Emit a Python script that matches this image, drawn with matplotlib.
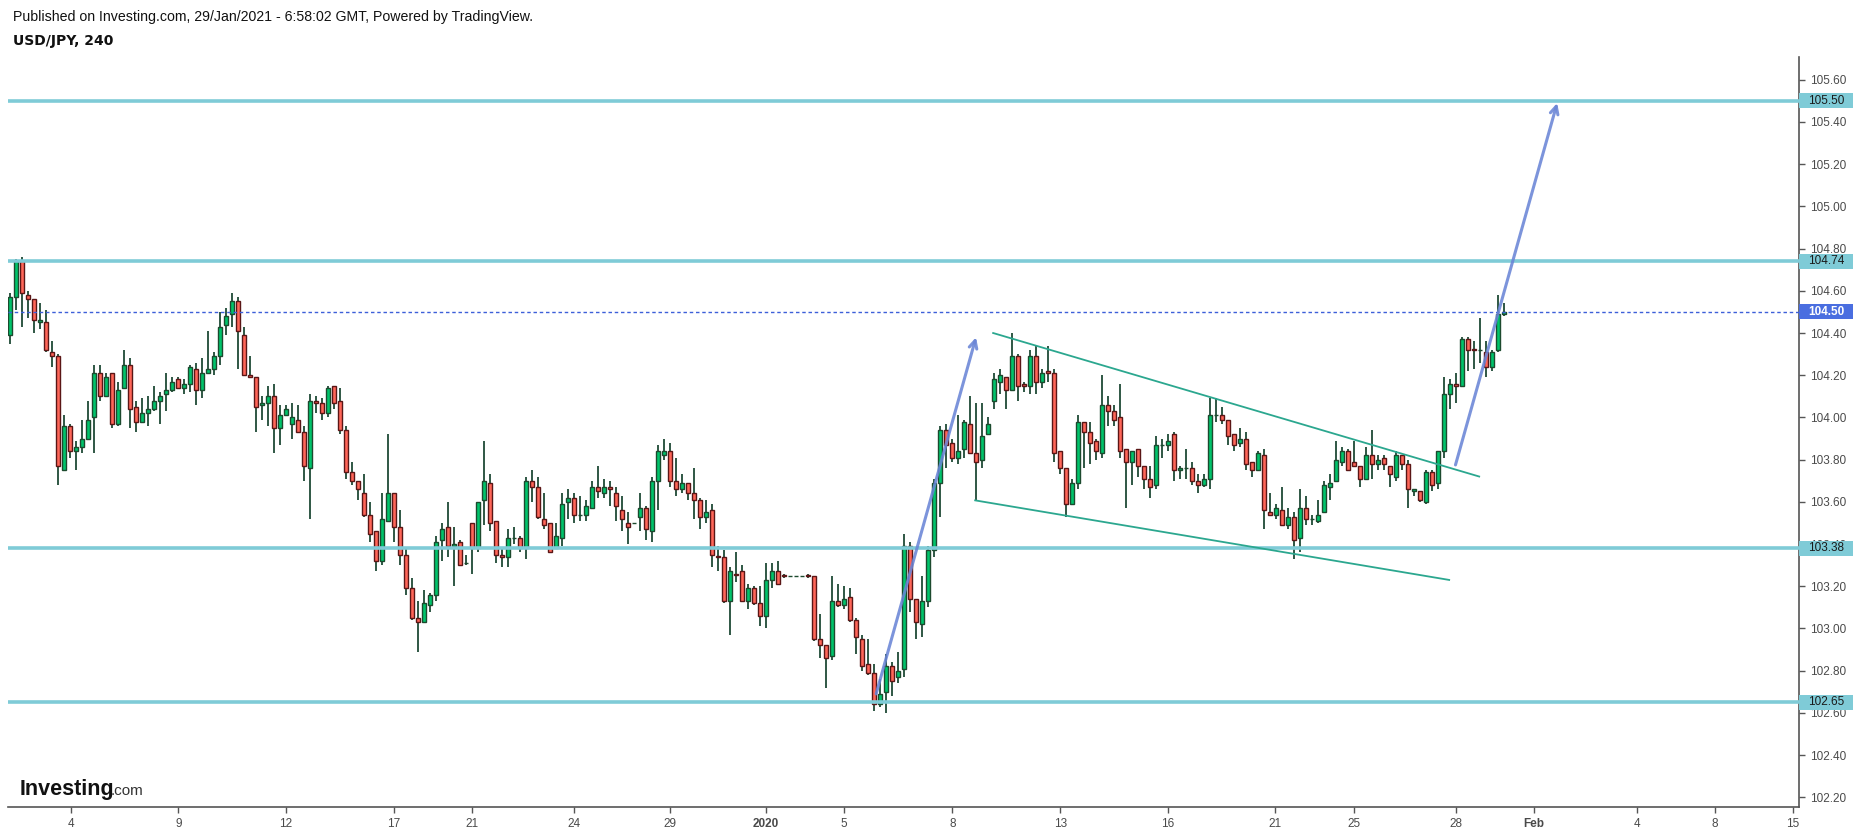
"""USD/JPY 240 candlestick chart with levels, channel and target arrows."""
import matplotlib
matplotlib.use('Agg')
import matplotlib.pyplot as plt
import matplotlib.patches as patches
import matplotlib.transforms as mtransforms
import numpy as np

# ---- data: 4h candles ----
opens = [
    104.39, 104.57, 104.74, 104.58, 104.56, 104.45, 104.45, 104.31, 104.29, 103.75,
    103.96, 103.84, 103.86, 103.90, 104.00, 104.21, 104.10, 104.21, 103.97, 104.14,
    104.25, 104.05, 103.98, 104.02, 104.04, 104.08, 104.11, 104.13, 104.18, 104.14,
    104.16, 104.23, 104.13, 104.21, 104.23, 104.29, 104.44, 104.49, 104.55, 104.39,
    104.20, 104.19, 104.06, 104.07, 104.10, 103.95, 104.01, 103.97, 103.99, 103.93,
    103.76, 104.08, 104.07, 104.02, 104.15, 104.08, 103.94, 103.74, 103.70, 103.64,
    103.54, 103.46, 103.32, 103.51, 103.64, 103.48, 103.35, 103.19, 103.05, 103.03,
    103.11, 103.16, 103.42, 103.48, 103.39, 103.41, 103.31, 103.50, 103.38, 103.61,
    103.69, 103.51, 103.35, 103.34, 103.43, 103.43, 103.38, 103.70, 103.67, 103.52,
    103.50, 103.38, 103.43, 103.60, 103.62, 103.54, 103.54, 103.57, 103.67, 103.64,
    103.67, 103.64, 103.56, 103.50, 103.50, 103.53, 103.57, 103.46, 103.70, 103.82,
    103.84, 103.70, 103.66, 103.69, 103.64, 103.61, 103.53, 103.56, 103.345, 103.34,
    103.13, 103.26, 103.27, 103.13, 103.19, 103.12, 103.06, 103.23, 103.27, 103.252,
    103.25, 103.25, 103.25, 103.252, 103.25, 102.95, 102.92, 102.87, 103.13, 103.11,
    103.15, 103.04, 102.95, 102.83, 102.79, 102.64, 102.70, 102.82, 102.77, 102.81,
    103.39, 103.14, 103.02, 103.13, 103.37, 103.69, 103.94, 103.88, 103.81, 103.85,
    103.97, 103.83, 103.80, 103.92, 104.08, 104.17, 104.19, 104.13, 104.29, 104.16,
    104.15, 104.29, 104.17, 104.22, 104.21, 103.84, 103.76, 103.59, 103.69, 103.98,
    103.93, 103.89, 103.83, 104.06, 104.03, 104.00, 103.85, 103.79, 103.85, 103.77,
    103.71, 103.68, 103.87, 103.87, 103.92, 103.75, 103.76, 103.76, 103.70, 103.68,
    103.71, 104.01, 104.01, 103.99, 103.92, 103.88, 103.90, 103.79, 103.75, 103.82,
    103.55, 103.54, 103.56, 103.49, 103.53, 103.43, 103.57, 103.52, 103.51, 103.55,
    103.67, 103.70, 103.79, 103.84, 103.79, 103.77, 103.71, 103.82, 103.78, 103.81,
    103.77, 103.72, 103.82, 103.78, 103.65, 103.65, 103.60, 103.74, 103.69, 103.84,
    104.11, 104.16, 104.15, 104.37, 104.322, 104.32, 104.31, 104.24, 104.32, 104.49,
]
highs = [
    104.59, 104.75, 104.76, 104.60, 104.56, 104.54, 104.51, 104.36, 104.30, 104.01,
    103.97, 103.89, 103.99, 104.08, 104.25, 104.25, 104.21, 104.21, 104.17, 104.32,
    104.28, 104.08, 104.09, 104.10, 104.15, 104.12, 104.21, 104.19, 104.19, 104.18,
    104.25, 104.26, 104.28, 104.41, 104.31, 104.50, 104.52, 104.59, 104.57, 104.43,
    104.29, 104.19, 104.10, 104.15, 104.16, 104.06, 104.06, 104.07, 104.06, 103.96,
    104.11, 104.10, 104.09, 104.15, 104.15, 104.14, 103.96, 103.79, 103.70, 103.73,
    103.60, 103.46, 103.64, 103.92, 103.64, 103.56, 103.38, 103.24, 103.13, 103.18,
    103.17, 103.44, 103.50, 103.60, 103.48, 103.42, 103.35, 103.50, 103.60, 103.89,
    103.73, 103.51, 103.38, 103.47, 103.48, 103.44, 103.72, 103.75, 103.72, 103.64,
    103.50, 103.50, 103.64, 103.66, 103.64, 103.63, 103.61, 103.70, 103.77, 103.71,
    103.70, 103.67, 103.63, 103.55, 103.50, 103.64, 103.58, 103.72, 103.87, 103.90,
    103.88, 103.81, 103.73, 103.69, 103.76, 103.62, 103.61, 103.59, 103.39, 103.37,
    103.29, 103.36, 103.30, 103.21, 103.20, 103.20, 103.31, 103.31, 103.32, 103.26,
    103.25, 103.25, 103.25, 103.26, 103.25, 103.07, 102.92, 103.25, 103.21, 103.20,
    103.19, 103.05, 102.97, 102.95, 102.83, 102.76, 102.88, 102.84, 102.89, 103.45,
    103.41, 103.14, 103.25, 103.39, 103.71, 103.96, 103.97, 103.90, 104.01, 103.99,
    104.10, 104.07, 104.07, 104.00, 104.21, 104.23, 104.19, 104.40, 104.30, 104.17,
    104.32, 104.34, 104.23, 104.34, 104.23, 103.84, 103.76, 103.71, 104.01, 103.98,
    103.98, 103.90, 104.20, 104.10, 104.06, 104.16, 103.85, 103.84, 103.85, 103.77,
    103.77, 103.91, 103.90, 103.92, 103.93, 103.77, 103.85, 103.79, 103.73, 103.73,
    104.09, 104.09, 104.05, 103.99, 103.92, 103.95, 103.93, 103.79, 103.84, 103.85,
    103.64, 103.59, 103.67, 103.57, 103.55, 103.66, 103.63, 103.54, 103.61, 103.70,
    103.73, 103.89, 103.86, 103.85, 103.89, 103.77, 103.86, 103.94, 103.82, 103.82,
    103.77, 103.84, 103.82, 103.80, 103.66, 103.65, 103.75, 103.75, 103.84, 104.19,
    104.18, 104.21, 104.38, 104.38, 104.36, 104.47, 104.36, 104.32, 104.58, 104.54,
]
lows = [
    104.35, 104.51, 104.43, 104.47, 104.40, 104.42, 104.31, 104.24, 103.68, 103.75,
    103.81, 103.75, 103.83, 103.90, 103.83, 104.08, 104.10, 103.95, 103.96, 104.14,
    103.95, 103.93, 103.98, 103.96, 104.03, 103.97, 104.03, 104.12, 104.14, 104.11,
    104.12, 104.06, 104.09, 104.21, 104.20, 104.25, 104.39, 104.43, 104.23, 104.20,
    104.19, 103.93, 103.99, 103.96, 103.83, 103.87, 104.01, 103.90, 103.93, 103.70,
    103.52, 104.02, 103.99, 104.00, 104.04, 103.92, 103.71, 103.68, 103.61, 103.53,
    103.41, 103.27, 103.30, 103.51, 103.41, 103.30, 103.16, 103.04, 102.89, 103.03,
    103.08, 103.13, 103.32, 103.34, 103.20, 103.30, 103.30, 103.26, 103.36, 103.49,
    103.46, 103.31, 103.29, 103.29, 103.40, 103.36, 103.33, 103.60, 103.52, 103.47,
    103.36, 103.38, 103.39, 103.52, 103.50, 103.51, 103.51, 103.57, 103.62, 103.62,
    103.58, 103.51, 103.46, 103.40, 103.50, 103.46, 103.42, 103.41, 103.56, 103.80,
    103.67, 103.63, 103.64, 103.61, 103.52, 103.47, 103.50, 103.29, 103.27, 103.12,
    102.97, 103.22, 103.13, 103.09, 103.11, 103.01, 103.00, 103.19, 103.21, 103.24,
    103.25, 103.25, 103.25, 103.24, 102.94, 102.86, 102.72, 102.85, 103.10, 103.09,
    103.03, 102.88, 102.80, 102.78, 102.61, 102.63, 102.60, 102.68, 102.74, 102.77,
    103.08, 102.95, 102.96, 103.10, 103.34, 103.53, 103.76, 103.79, 103.78, 103.81,
    103.83, 103.61, 103.76, 103.92, 104.04, 104.11, 104.04, 104.13, 104.08, 104.12,
    104.11, 104.11, 104.14, 104.17, 103.79, 103.73, 103.53, 103.59, 103.66, 103.76,
    103.78, 103.80, 103.81, 103.96, 103.96, 103.81, 103.57, 103.68, 103.72, 103.66,
    103.62, 103.66, 103.81, 103.84, 103.70, 103.71, 103.71, 103.68, 103.64, 103.67,
    103.66, 103.98, 103.97, 103.87, 103.84, 103.86, 103.75, 103.72, 103.75, 103.47,
    103.54, 103.52, 103.49, 103.47, 103.33, 103.36, 103.49, 103.49, 103.50, 103.55,
    103.61, 103.70, 103.77, 103.75, 103.77, 103.67, 103.71, 103.71, 103.75, 103.75,
    103.67, 103.70, 103.75, 103.57, 103.63, 103.60, 103.59, 103.65, 103.66, 103.81,
    104.04, 104.07, 104.15, 104.22, 104.23, 104.26, 104.19, 104.22, 104.31, 104.48,
]
closes = [
    104.57, 104.74, 104.59, 104.56, 104.46, 104.46, 104.32, 104.29, 103.77, 103.96,
    103.84, 103.86, 103.90, 103.99, 104.21, 104.10, 104.19, 103.97, 104.13, 104.25,
    104.04, 103.98, 104.02, 104.04, 104.08, 104.10, 104.13, 104.17, 104.14, 104.16,
    104.24, 104.13, 104.21, 104.23, 104.29, 104.43, 104.48, 104.55, 104.41, 104.20,
    104.19, 104.05, 104.07, 104.10, 103.95, 104.01, 104.04, 104.00, 103.93, 103.77,
    104.08, 104.07, 104.02, 104.14, 104.07, 103.94, 103.74, 103.70, 103.66, 103.54,
    103.45, 103.32, 103.52, 103.64, 103.48, 103.35, 103.19, 103.05, 103.03, 103.12,
    103.16, 103.41, 103.47, 103.39, 103.40, 103.30, 103.31, 103.38, 103.60, 103.70,
    103.50, 103.35, 103.34, 103.43, 103.43, 103.38, 103.70, 103.67, 103.53, 103.49,
    103.36, 103.44, 103.59, 103.62, 103.54, 103.54, 103.58, 103.67, 103.65, 103.67,
    103.66, 103.58, 103.52, 103.48, 103.50, 103.57, 103.47, 103.70, 103.84, 103.84,
    103.70, 103.66, 103.69, 103.64, 103.61, 103.53, 103.55, 103.35, 103.34, 103.13,
    103.27, 103.255, 103.13, 103.19, 103.12, 103.06, 103.23, 103.27, 103.21, 103.25,
    103.25, 103.25, 103.25, 103.25, 102.95, 102.92, 102.86, 103.13, 103.11, 103.14,
    103.04, 102.96, 102.82, 102.79, 102.64, 102.69, 102.82, 102.75, 102.80, 103.39,
    103.14, 103.03, 103.13, 103.37, 103.69, 103.94, 103.87, 103.81, 103.84, 103.98,
    103.83, 103.79, 103.91, 103.97, 104.18, 104.20, 104.13, 104.29, 104.15, 104.15,
    104.29, 104.17, 104.21, 104.21, 103.83, 103.76, 103.59, 103.69, 103.98, 103.93,
    103.88, 103.84, 104.06, 104.03, 103.99, 103.84, 103.79, 103.84, 103.77, 103.71,
    103.67, 103.87, 103.87, 103.89, 103.75, 103.76, 103.76, 103.70, 103.68, 103.71,
    104.01, 104.01, 103.99, 103.91, 103.87, 103.90, 103.78, 103.75, 103.83, 103.56,
    103.54, 103.57, 103.49, 103.53, 103.42, 103.57, 103.52, 103.52, 103.54, 103.68,
    103.69, 103.80, 103.84, 103.75, 103.77, 103.71, 103.82, 103.78, 103.80, 103.78,
    103.73, 103.82, 103.78, 103.66, 103.66, 103.61, 103.74, 103.68, 103.84, 104.11,
    104.16, 104.15, 104.37, 104.32, 104.32, 104.32, 104.24, 104.31, 104.49, 104.50,
]

# horizontal levels and last price
levels = [105.50, 104.74, 103.38, 102.65]
last_price = 104.50

# x-axis labels (candle position, text)
tick_pos = [10.2, 28.1, 46.0, 64.0, 77.0, 94.1, 110.1, 126.0, 139.0, 157.1,
            175.1, 193.0, 210.9, 224.1, 241.0, 254.0, 271.2, 284.2, 297.2]
tick_text = ['4', '9', '12', '17', '21', '24', '29', '2020', '5', '8',
             '13', '16', '21', '25', '28', 'Feb', '4', '8', '15']

# drawings: (x0, p0, x1, p1)
channel_upper = (163.9, 104.40, 244.9, 103.72)
channel_lower = (160.9, 103.607, 239.9, 103.23)
arrow_1 = (144.4, 102.69, 161.05, 104.38)
arrow_2 = (240.95, 103.775, 257.9, 105.49)

W, H = 1853, 835
fig = plt.figure(figsize=(W / 100, H / 100), dpi=100)
fig.patch.set_facecolor('white')
ax = fig.add_axes([8 / W, (H - 807) / H, (1799 - 8) / W, (807 - 57) / H])
ax.set_xlim(-0.28, 298.2)
ax.set_ylim(102.154, 105.708)

up_fill, dn_fill = '#00c46b', '#ff6659'
up_edge, dn_edge = '#1c4a2e', '#5a1616'
wick_col = '#1f4a36'

o = np.array(opens); h = np.array(highs); l = np.array(lows); c = np.array(closes)
x = np.arange(len(o))
up = c >= o

ax.vlines(x, l, h, color=wick_col, linewidth=1.3, zorder=2)
ax.bar(x[up], (c - o)[up], bottom=o[up], width=0.62, color=up_fill,
       edgecolor=up_edge, linewidth=1.0, zorder=3)
ax.bar(x[~up], (o - c)[~up], bottom=c[~up], width=0.62, color=dn_fill,
       edgecolor=dn_edge, linewidth=1.0, zorder=3)

# levels
level_col = '#7fcbd7'
for lv in levels:
    ax.hlines(lv, -0.28, 298.2, color=level_col, linewidth=2.6, zorder=4)
ax.axhline(last_price, color='#3d5fd9', linewidth=1.0, linestyle=(0, (2.5, 2)), zorder=4)

# channel lines
for (x0, p0, x1, p1) in (channel_upper, channel_lower):
    ax.plot([x0, x1], [p0, p1], color='#2ba78f', linewidth=1.3, zorder=5)

# arrows
for (x0, p0, x1, p1) in (arrow_1, arrow_2):
    ax.annotate('', xy=(x1, p1), xytext=(x0, p0),
                arrowprops=dict(arrowstyle='->', color='#6a85d6', lw=2.2,
                                alpha=0.88, mutation_scale=14, shrinkA=0, shrinkB=0),
                zorder=6)

# axes styling
for side in ('top', 'left'):
    ax.spines[side].set_visible(False)
for side in ('right', 'bottom'):
    ax.spines[side].set_color('#555555')
    ax.spines[side].set_linewidth(1.2)

ax.yaxis.tick_right()
yt = np.round(np.arange(102.2, 105.61, 0.2), 2)
ax.set_yticks(yt)
ax.set_yticklabels([f'{v:.2f}' for v in yt], family='Liberation Sans', fontsize=8.5,
                   color='#4a4a4a')
ax.tick_params(axis='y', direction='out', length=4, width=1, color='#555555', pad=4)

ax.set_xticks(tick_pos)
ax.set_xticklabels(tick_text, family='Liberation Sans', fontsize=8.5, color='#4a4a4a')
for lab in ax.get_xticklabels():
    if lab.get_text() in ('2020', 'Feb'):
        lab.set_fontweight('bold')
ax.tick_params(axis='x', direction='out', length=4, width=1, color='#555555', pad=4)

# price tags on the right axis
trans = mtransforms.blended_transform_factory(ax.transAxes, ax.transData)
box_w = 56 / (1799 - 8)
box_h = 15 / 211.0
for lv in levels:
    ax.add_patch(patches.Rectangle((1.0, lv - box_h / 2), box_w, box_h, transform=trans,
                                   facecolor=level_col, edgecolor='none',
                                   clip_on=False, zorder=7))
    ax.text(1.0 + 9 / 1791, lv, f'{lv:.2f}', transform=trans, ha='left', va='center',
            family='Liberation Sans', fontsize=8.5, color='#1a1a1a', zorder=8,
            clip_on=False)
ax.add_patch(patches.Rectangle((1.0, last_price - box_h / 2), box_w, box_h,
                               transform=trans, facecolor='#4a6ee0', edgecolor='none',
                               clip_on=False, zorder=7))
ax.text(1.0 + 9 / 1791, last_price, f'{last_price:.2f}', transform=trans, ha='left',
        va='center', family='Liberation Sans', fontsize=8.5, color='white',
        fontweight='bold', zorder=8, clip_on=False)

# header texts
fig.text(13 / W, 1 - 17 / H, 'Published on Investing.com, 29/Jan/2021 - 6:58:02 GMT, '
         'Powered by TradingView.', family='Liberation Sans', fontsize=10.2,
         color='#111111', ha='left', va='center')
fig.text(13 / W, 1 - 41 / H, 'USD/JPY, 240', family='DejaVu Sans', fontsize=10,
         fontweight='bold', color='#111111', ha='left', va='center')

# watermark logo
fig.text(20 / W, 1 - 789 / H, 'Investing', family='Liberation Sans', fontsize=15.5,
         fontweight='bold', color='#111111', ha='left', va='center')
fig.text(111 / W, 1 - 791 / H, '.com', family='Liberation Sans', fontsize=11,
         color='#333333', ha='left', va='center')

fig.savefig('out.png', dpi=100, facecolor='white')
plt.close(fig)
